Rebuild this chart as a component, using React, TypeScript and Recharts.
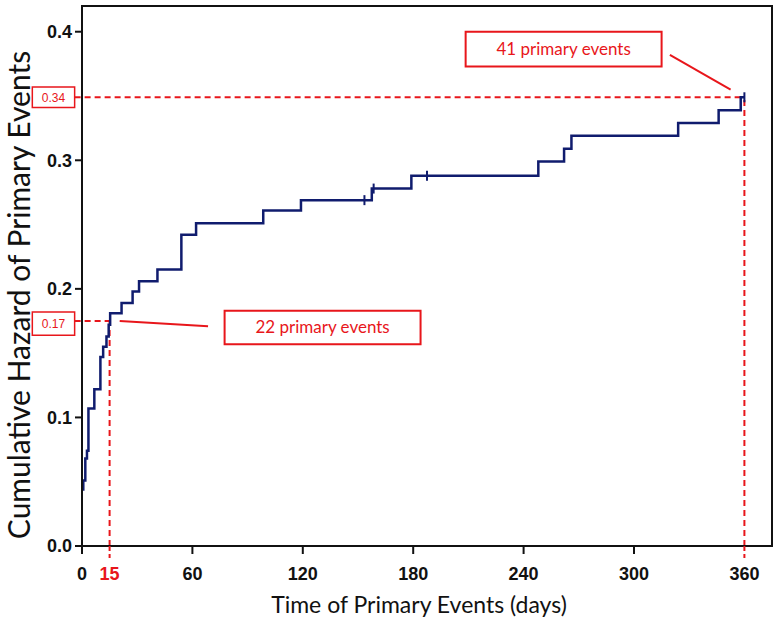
import {
  ComposedChart,
  Line,
  Scatter,
  XAxis,
  YAxis,
  ReferenceLine,
  ReferenceArea,
} from "recharts";

// step times (days) and cumulative hazard
const stepTimes = [0, 0.7, 1.8, 2.7, 3.5, 6.7, 10, 11.5, 13.3, 14.5, 15.3, 21.5, 27.5, 31, 41, 54, 62, 98.5, 119, 157.5, 179, 248, 262, 266, 324, 346, 358, 360];
const stepHazard = [0.044, 0.051, 0.068, 0.074, 0.107, 0.122, 0.147, 0.155, 0.163, 0.172, 0.181, 0.189, 0.198, 0.206, 0.215, 0.242, 0.251, 0.261, 0.269, 0.278, 0.288, 0.299, 0.309, 0.319, 0.329, 0.339, 0.349, 0.349];

// censored observations
const censorTimes = [153.5, 158.5, 187.5, 360];
const censorHazard = [0.269, 0.278, 0.288, 0.349];

const xTicks = [0, 15, 60, 120, 180, 240, 300, 360];
const yTicks = [0, 0.1, 0.2, 0.3, 0.4];

const curve = stepTimes.map((t, i) => ({ t, h: stepHazard[i] }));
const censored = censorTimes.map((t, i) => ({ t, h: censorHazard[i] }));

const NAVY = "#101c6e";
const RED = "#e8161b";
const tickFont = "'Liberation Sans Narrow', 'Liberation Sans', Arial, sans-serif";
const titleFont = "Lato, 'Open Sans', sans-serif";

function XTick(props: any) {
  const { x, y, payload } = props;
  const v = payload.value;
  const redLine = v === 15 || v === 360;
  return (
    <g>
      <line
        x1={x}
        x2={x}
        y1={y}
        y2={y + (redLine ? 12 : 8)}
        stroke={redLine ? RED : "#111"}
        strokeWidth={2}
        strokeDasharray={redLine ? "5 3" : undefined}
      />
      <text
        x={x}
        y={y + 34}
        textAnchor="middle"
        fontFamily={tickFont}
        fontWeight="bold"
        fontSize={18}
        fill={v === 15 ? RED : "#111"}
      >
        {v}
      </text>
    </g>
  );
}

function CensorMark(props: any) {
  const { cx, cy } = props;
  return <line x1={cx} x2={cx} y1={cy - 5} y2={cy + 5} stroke={NAVY} strokeWidth={2} />;
}

const boxLabel = (text: string, size: number) => ({
  value: text,
  position: "center" as const,
  fill: RED,
  fontSize: size,
  fontFamily: size > 14 ? "Lato, 'Open Sans', sans-serif" : "'Liberation Sans', Arial, sans-serif",
});

export default function App() {
  return (
    <div style={{ position: "absolute", left: 0, top: 0, background: "#fff" }}>
      <ComposedChart
        width={778}
        height={624}
        data={curve}
        margin={{ top: 6, right: 6, bottom: 0, left: 0 }}
      >
        <XAxis
          dataKey="t"
          type="number"
          domain={[0, 375]}
          ticks={xTicks}
          interval={0}
          height={78}
          axisLine={{ stroke: "#111", strokeWidth: 2 }}
          tickLine={false}
          tickSize={0}
          tickMargin={0}
          tick={<XTick />}
          label={{
            content: ({ viewBox }: any) => (
              <text
                x={viewBox.x + viewBox.width / 2 - 8}
                y={viewBox.y + 67}
                textAnchor="middle"
                fontFamily={titleFont}
                fontSize={23}
                fill="#111"
              >
                Time of Primary Events (days)
              </text>
            ),
          }}
        />
        <YAxis
          dataKey="h"
          type="number"
          domain={[0, 0.42]}
          ticks={yTicks}
          interval={0}
          width={82}
          axisLine={{ stroke: "#111", strokeWidth: 2 }}
          tickLine={{ stroke: "#111", strokeWidth: 2 }}
          tickSize={7}
          tickMargin={3}
          tickFormatter={(v: number) => v.toFixed(1)}
          tick={{ fill: "#111", fontSize: 18, fontWeight: "bold", fontFamily: "'Liberation Sans', Arial, sans-serif" }}
          label={{
            content: ({ viewBox }: any) => {
              const cx = 18;
              const cy = viewBox.y + viewBox.height / 2 + 19;
              return (
                <text
                  x={cx}
                  y={cy}
                  transform={`rotate(-90 ${cx} ${cy})`}
                  textAnchor="middle"
                  dominantBaseline="central"
                  fontFamily={titleFont}
                  fontSize={30}
                  fill="#111"
                >
                  Cumulative Hazard of Primary Events
                </text>
              );
            },
          }}
        />

        {/* plot frame */}
        <ReferenceArea x1={0} x2={375} y1={0} y2={0.42} fill="none" stroke="#111" strokeWidth={2} ifOverflow="visible" />

        {/* red guide lines */}
        <ReferenceLine segment={[{ x: -4, y: 0.175 }, { x: 15, y: 0.175 }]} stroke={RED} strokeWidth={2} strokeDasharray="6 4" ifOverflow="visible" />
        <ReferenceLine segment={[{ x: 15, y: 0 }, { x: 15, y: 0.175 }]} stroke={RED} strokeWidth={2} strokeDasharray="6 4" ifOverflow="visible" />
        <ReferenceLine segment={[{ x: -4, y: 0.349 }, { x: 360, y: 0.349 }]} stroke={RED} strokeWidth={2} strokeDasharray="6 4" ifOverflow="visible" />
        <ReferenceLine segment={[{ x: 360, y: 0 }, { x: 360, y: 0.349 }]} stroke={RED} strokeWidth={2} strokeDasharray="6 4" ifOverflow="visible" />

        {/* value boxes left of the axis */}
        <ReferenceArea x1={-27} x2={-4} y1={0.164} y2={0.182} fill="#fff" stroke={RED} strokeWidth={1.5} ifOverflow="visible" label={boxLabel("0.17", 12)} />
        <ReferenceArea x1={-27} x2={-4} y1={0.341} y2={0.357} fill="#fff" stroke={RED} strokeWidth={1.5} ifOverflow="visible" label={boxLabel("0.34", 12)} />

        {/* annotation callouts */}
        <ReferenceLine segment={[{ x: 20.5, y: 0.175 }, { x: 68.5, y: 0.171 }]} stroke={RED} strokeWidth={2} ifOverflow="visible" />
        <ReferenceArea x1={77.5} x2={184} y1={0.157} y2={0.183} fill="#fff" stroke={RED} strokeWidth={2} ifOverflow="visible" label={boxLabel("22 primary events", 17)} />
        <ReferenceLine segment={[{ x: 319.5, y: 0.382 }, { x: 352.5, y: 0.355 }]} stroke={RED} strokeWidth={2} ifOverflow="visible" />
        <ReferenceArea x1={208.5} x2={315} y1={0.373} y2={0.4} fill="#fff" stroke={RED} strokeWidth={2} ifOverflow="visible" label={boxLabel("41 primary events", 17)} />

        <Line
          type="stepAfter"
          dataKey="h"
          stroke={NAVY}
          strokeWidth={2.5}
          dot={false}
          activeDot={false}
          isAnimationActive={false}
        />
        <Scatter data={censored} dataKey="h" shape={<CensorMark />} isAnimationActive={false} />
      </ComposedChart>
    </div>
  );
}
